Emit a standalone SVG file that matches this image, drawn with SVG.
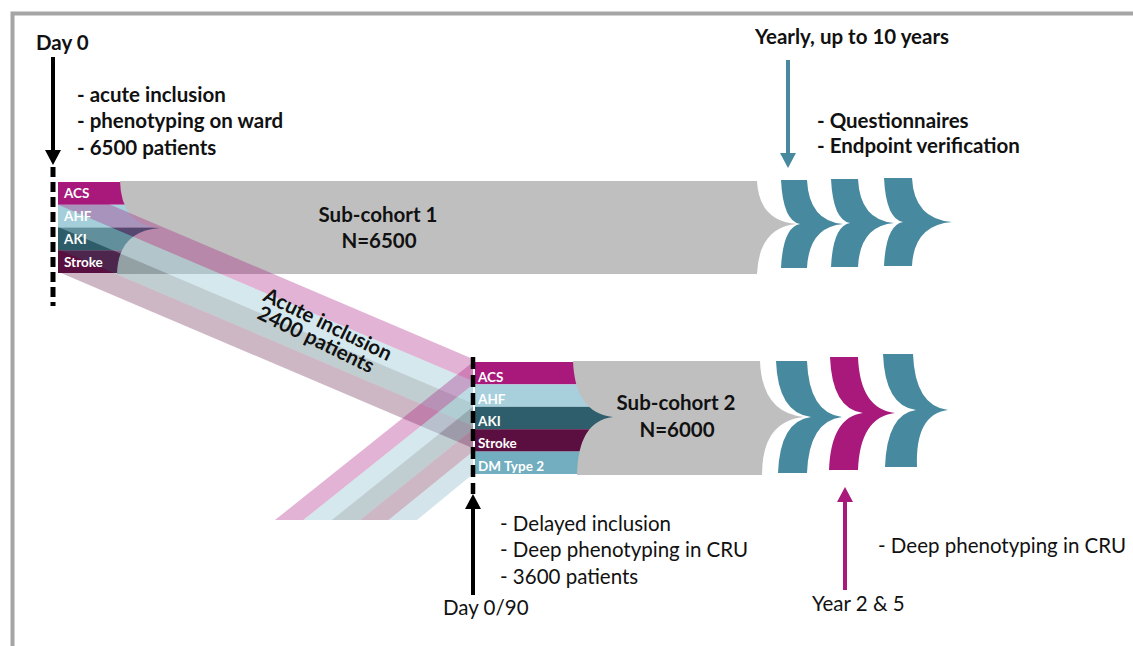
<svg xmlns="http://www.w3.org/2000/svg" width="1133" height="646" viewBox="0 0 1133 646">
<style>
.t{font-family:Lato,"Liberation Sans",sans-serif;fill:#111}
.b{font-weight:bold}
.big{font-size:20.5px}
.reg{font-size:20.5px}
.lab{font-family:Lato,"Liberation Sans",sans-serif;font-weight:bold;font-size:13.5px;fill:#fff}
.acs{fill:#a8197b}.ahf{fill:#a7cfdc}.aki{fill:#2e5e6b}.str{fill:#5a0f40}.dm{fill:#72aebf}
.gray{fill:#bfbfbf}
.chev{fill:#478a9f}
.dpink{fill:#a8197b;fill-opacity:.33}
.dblue{fill:#9fcbd8;fill-opacity:.45}
.dteal{fill:#2e5e6b;fill-opacity:.3}
.dpurp{fill:#5a0f40;fill-opacity:.3}
.ddm{fill:#6eaabd;fill-opacity:.3}
.ln{fill:none;stroke-width:4}
</style>
<defs>
<marker id="hk" markerUnits="userSpaceOnUse" viewBox="0 0 15 16" markerWidth="15" markerHeight="16" refX="3" refY="8" orient="auto"><path d="M0,0 L15,8 L0,16 z" fill="#000"/></marker>
<marker id="ht" markerUnits="userSpaceOnUse" viewBox="0 0 15 16" markerWidth="15" markerHeight="16" refX="3" refY="8" orient="auto"><path d="M0,0 L15,8 L0,16 z" fill="#478a9f"/></marker>
<marker id="hm" markerUnits="userSpaceOnUse" viewBox="0 0 15 16" markerWidth="15" markerHeight="16" refX="3" refY="8" orient="auto"><path d="M0,0 L15,8 L0,16 z" fill="#a8197b"/></marker>
</defs>

<rect width="1133" height="646" fill="#fff"/>
<path d="M12.5,646 V13.5 H1133" fill="none" stroke="#a5a5a5" stroke-width="4"/>

<g id="stack1">
<rect class="acs" x="58" y="182" width="107" height="22.75"/>
<rect class="ahf" x="58" y="204.75" width="107" height="22.75"/>
<rect class="aki" x="58" y="227.5" width="107" height="22.75"/>
<rect class="str" x="58" y="250.25" width="107" height="22.75"/>
</g>

<g id="stack2">
<rect class="acs" x="475" y="362" width="142" height="22.4"/>
<rect class="ahf" x="475" y="384.4" width="142" height="22.4"/>
<rect class="aki" x="475" y="406.8" width="142" height="22.4"/>
<rect class="str" x="475" y="429.2" width="142" height="22.4"/>
<rect class="dm" x="475" y="451.6" width="142" height="22.4"/>
</g>

<g id="subcohort1">
<path class="gray" d="M120,181 L757,181 Q759,221 797,224 Q759,227 757,274 L117,274 Q118,231 160,228 Q121,225 120,181 Z"/>
<text class="t b big" x="378" y="222" text-anchor="middle">Sub-cohort 1</text>
<text class="t b big" x="379" y="248" text-anchor="middle">N=6500</text>
</g>

<g id="subcohort2">
<path class="gray" d="M573,361 L760,361 Q762,413 804,417 Q762,421 762,475 L577,475 Q578,421 613,417 Q575,413 573,361 Z"/>
<text class="t b big" x="676" y="410" text-anchor="middle">Sub-cohort 2</text>
<text class="t b big" x="677" y="437" text-anchor="middle">N=6000</text>
</g>

<g id="flows">
<polygon class="dpink" points="58,182.5 473,359 473,381.3 58,204.8"/>
<polygon class="dblue" points="58,204.8 473,381.3 473,403.6 58,227.1"/>
<polygon class="dteal" points="58,227.1 473,403.6 473,425.9 58,249.4"/>
<polygon class="dpurp" points="58,249.4 473,425.9 473,448.2 58,271.7"/>
<polygon class="dpink" points="275,520 303.4,520 473,384.4 473,362"/>
<polygon class="dblue" points="303.4,520 331.8,520 473,406.8 473,384.4"/>
<polygon class="dteal" points="331.8,520 360.2,520 473,429.2 473,406.8"/>
<polygon class="dpurp" points="360.2,520 388.6,520 473,451.6 473,429.2"/>
<polygon class="ddm" points="388.6,520 417,520 473,474 473,451.6"/>
</g>

<g id="labels1">
<text class="lab" x="64" y="198">ACS</text>
<text class="lab" x="64" y="221">AHF</text>
<text class="lab" x="64" y="244">AKI</text>
<text class="lab" x="64" y="267">Stroke</text>
</g>
<g id="labels2">
<text class="lab" x="478" y="382">ACS</text>
<text class="lab" x="478" y="404">AHF</text>
<text class="lab" x="478" y="426">AKI</text>
<text class="lab" x="478" y="448">Stroke</text>
<text class="lab" x="478" y="471">DM Type 2</text>
</g>

<g id="acute-label">
<text class="t b big" transform="translate(262,300) rotate(26)">Acute inclusion</text>
<text class="t b big" transform="translate(256,318) rotate(26)">2400 patients</text>
</g>

<g id="chevrons-top">
<path class="chev" d="M781,180 L807,180 Q809,221 843,224 Q809,227 807,268 L781,268 Q783,227 800,224 Q783,221 781,180 Z"/>
<path class="chev" d="M831,179 L858,179 Q860,220 894,223 Q860,226 858,267 L831,267 Q833,226 850,223 Q833,220 831,179 Z"/>
<path class="chev" d="M884,178 L912,178 Q914,219 952,222 Q914,225 912,266 L884,266 Q886,225 903,222 Q886,219 884,178 Z"/>
</g>
<g id="chevrons-bottom">
<path class="chev" d="M776,361 L807,361 Q809,413 842,417 Q809,421 807,473 L778,473 Q780,421 811,417 Q778,413 776,361 Z"/>
<path class="acs" d="M830,357 L858,357 Q860,409 895,413 Q860,417 858,470 L829,470 Q831,417 863,413 Q832,409 830,357 Z"/>
<path class="chev" d="M883,354 L913,354 Q915,406 948,410 Q915,414 917,467 L885,467 Q887,414 916,410 Q885,406 883,354 Z"/>
</g>

<g id="connectors">
<line class="ln" x1="53" y1="57" x2="53" y2="153" stroke="#000" marker-end="url(#hk)"/>
<line x1="53" y1="167" x2="53" y2="306" stroke="#000" stroke-width="5" stroke-dasharray="10 5"/>
<line x1="473" y1="357" x2="473" y2="494" stroke="#000" stroke-width="4.5" stroke-dasharray="12 6"/>
<line class="ln" x1="473" y1="595" x2="473" y2="506" stroke="#000" marker-end="url(#hk)"/>
<line class="ln" x1="788" y1="60" x2="788" y2="156" stroke="#478a9f" marker-end="url(#ht)"/>
<line class="ln" x1="845" y1="590" x2="845" y2="499" stroke="#a8197b" marker-end="url(#hm)"/>
</g>

<g id="texts">
<text class="t b big" x="36" y="50">Day 0</text>
<text class="t b big" x="77" y="102">- acute inclusion</text>
<text class="t b big" x="77" y="128">- phenotyping on ward</text>
<text class="t b big" x="77" y="155">- 6500 patients</text>
<text class="t b big" x="755" y="44">Yearly, up to 10 years</text>
<text class="t b big" x="817" y="128">- Questionnaires</text>
<text class="t b big" x="817" y="153">- Endpoint verification</text>
<text class="t reg" x="500" y="531">- Delayed inclusion</text>
<text class="t reg" x="500" y="557">- Deep phenotyping in CRU</text>
<text class="t reg" x="500" y="584">- 3600 patients</text>
<text class="t reg" x="443" y="615">Day 0/90</text>
<text class="t reg" x="812" y="611">Year 2 &amp; 5</text>
<text class="t reg" x="878" y="553">- Deep phenotyping in CRU</text>
</g>
</svg>
